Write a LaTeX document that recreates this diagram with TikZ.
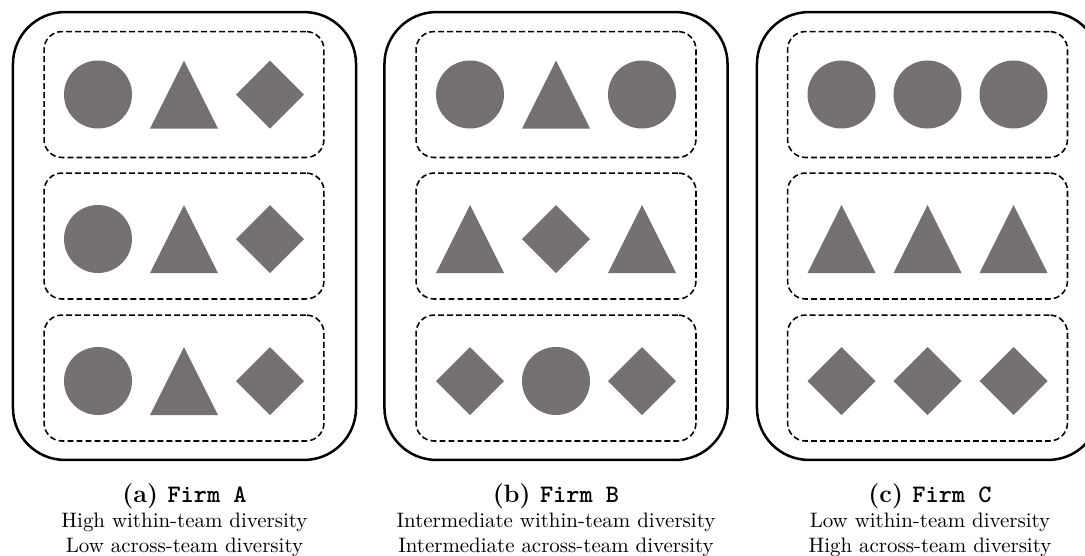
\documentclass[tikz,border=0pt]{standalone}
\usepackage{tikz}
\usetikzlibrary{positioning}

\definecolor{shapegray}{RGB}{117,113,112}

\tikzset{
  panel/.style={draw,line width=1.2pt,rounded corners=24.9pt,
                minimum width=164pt,minimum height=214.1pt,inner sep=0pt},
  team/.style={draw,line width=0.75pt,dash pattern=on 2.8pt off 1.5pt,
               rounded corners=8.6pt,minimum width=133.8pt,
               minimum height=60.2pt,inner sep=0pt},
  capt/.style={align=center,anchor=north,inner sep=0pt},
  pics/dot/.style={code={\fill[shapegray] (0,0) circle (34);}},
  pics/tri/.style={code={\fill[shapegray] (-34,34) -- (0,-34) -- (34,34) -- cycle;}},
  pics/diam/.style={code={\fill[shapegray] (-34,0) -- (0,-34) -- (34,0) -- (0,34) -- cycle;}}
}

\begin{document}
\begin{tikzpicture}[x=0.478pt,y=-0.478pt]
  \useasboundingbox (0,0) rectangle (1085,555);

  % outer firm boxes
  \node[panel] (firmA) at (184.5,236) {};
  \node[panel] (firmB) at (556,236) {};
  \node[panel] (firmC) at (928.5,236) {};

  % teams
  \foreach \f/\x in {A/184, B/556, C/927.5}{
    \node[team] (\f1) at (\x,94.5) {};
    \node[team] (\f2) at (\x,236) {};
    \node[team] (\f3) at (\x,378) {};
  }

  % firm A
  \path (A1) ++(-86,0) pic {dot} (A1) pic {tri} (A1) ++(86,0) pic {diam};
  \path (A2) ++(-86,3) pic {dot} (A2) ++(0,3) pic {tri} (A2) ++(86,3) pic {diam};
  \path (A3) ++(-86,3) pic {dot} (A3) ++(0,3) pic {tri} (A3) ++(86,3) pic {diam};

  % firm B
  \path (B1) ++(-86,0) pic {dot} (B1) pic {tri} (B1) ++(86,0) pic {dot};
  \path (B2) ++(-86,3) pic {tri} (B2) ++(0,3) pic {diam} (B2) ++(86,3) pic {tri};
  \path (B3) ++(-86,3) pic {diam} (B3) ++(0,3) pic {dot} (B3) ++(86,3) pic {diam};

  % firm C
  \path (C1) ++(-86,0) pic {dot} (C1) pic {dot} (C1) ++(86,0) pic {dot};
  \path (C2) ++(-86,3) pic {tri} (C2) ++(0,3) pic {tri} (C2) ++(86,3) pic {tri};
  \path (C3) ++(-86,3) pic {diam} (C3) ++(0,3) pic {diam} (C3) ++(86,3) pic {diam};

  % captions
  \node[capt] (captA) at (184.5,483) {{\large\bfseries (a) \texttt{Firm A}}\\
    High within-team diversity\\Low across-team diversity};
  \node[capt] (captB) at (556,483) {{\large\bfseries (b) \texttt{Firm B}}\\
    Intermediate within-team diversity\\Intermediate across-team diversity};
  \node[capt] (captC) at (930,483) {{\large\bfseries (c) \texttt{Firm C}}\\
    Low within-team diversity\\High across-team diversity};

\end{tikzpicture}
\end{document}
